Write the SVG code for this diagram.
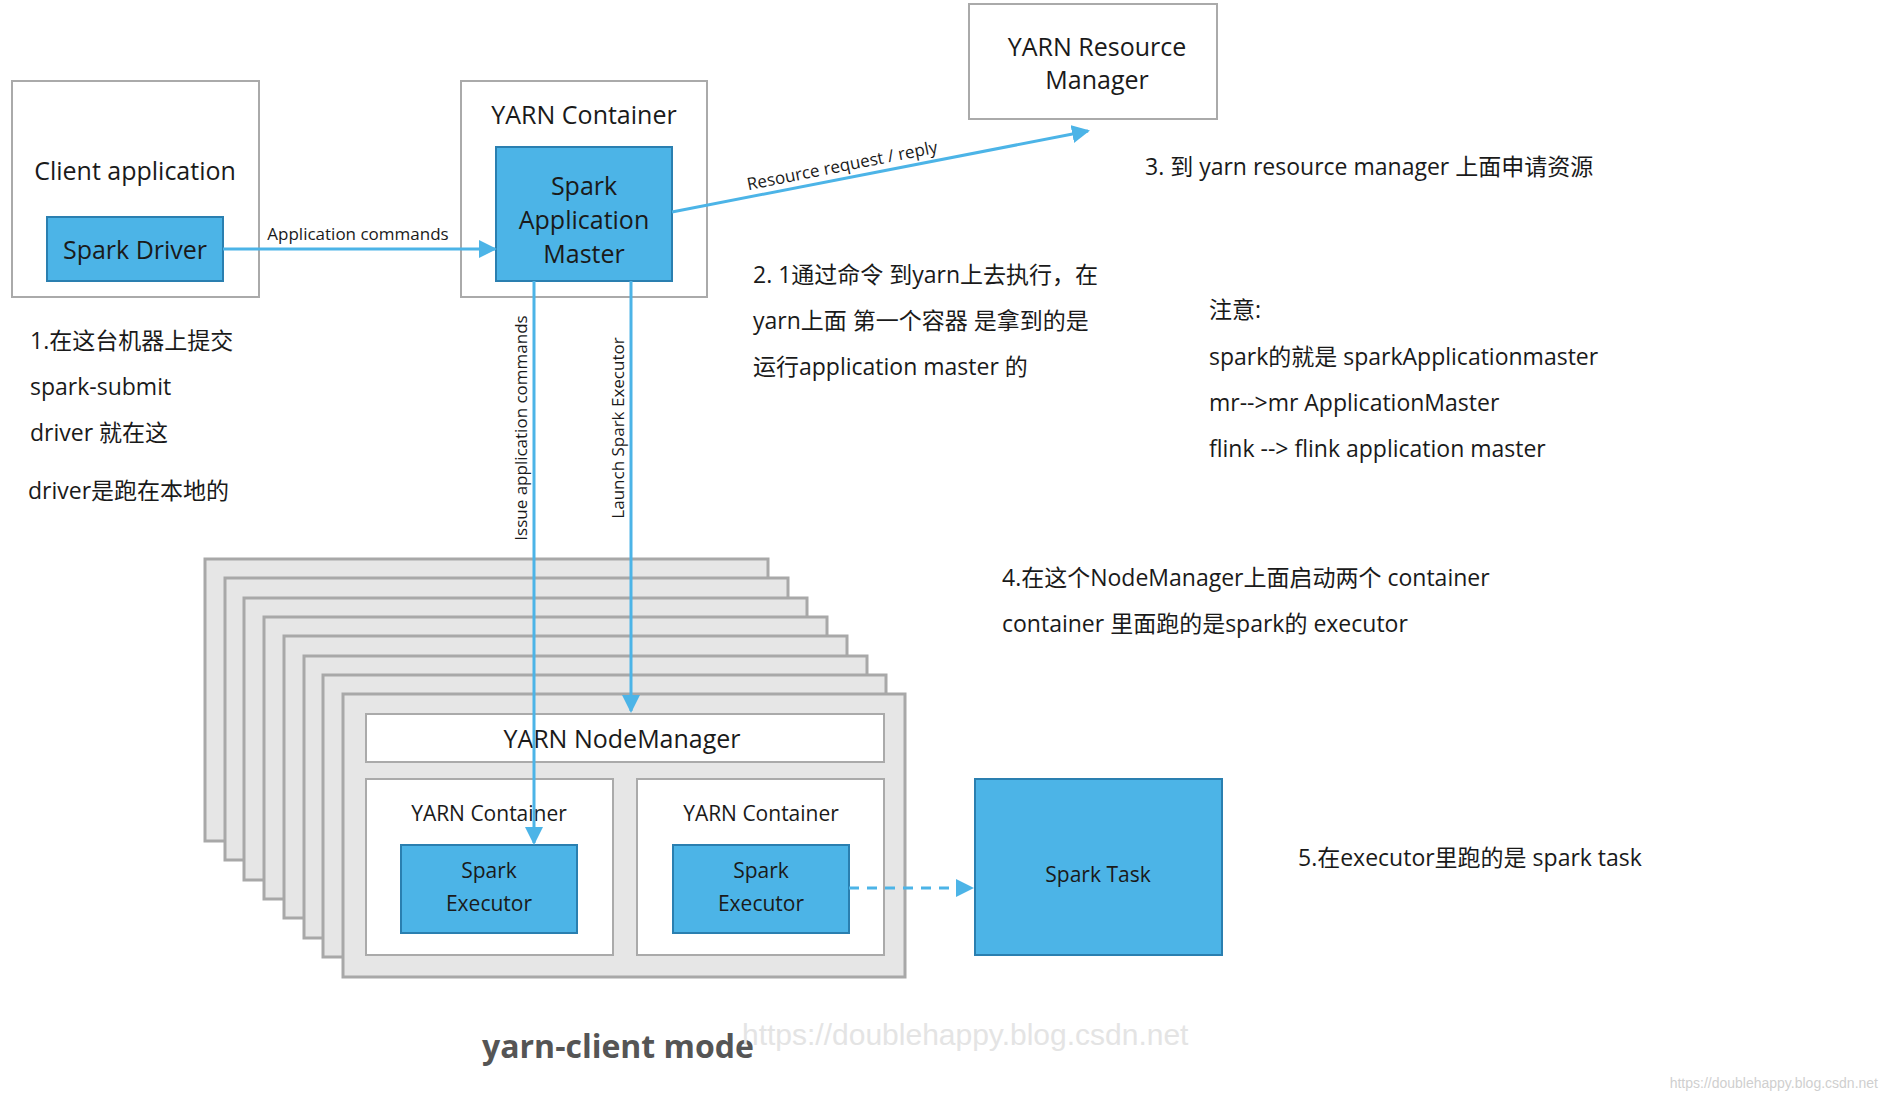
<svg xmlns="http://www.w3.org/2000/svg" width="1882" height="1096" viewBox="0 0 1882 1096">
<style>
text{font-family:"Open Sans","Noto Sans CJK SC",sans-serif;fill:#1a1a1a;dominant-baseline:central}
.box{fill:#fff;stroke:#aaa;stroke-width:2}
.blue{fill:#4cb4e7;stroke:#2a7fb0;stroke-width:2}
.card{fill:#e6e6e6;stroke:#a8a8a8;stroke-width:3}
.n{font-size:25px;text-anchor:middle}
.s{font-size:21px;text-anchor:middle}
.l{font-size:17px;text-anchor:middle}
.a{font-size:23px}
.ln{stroke:#4cb4e7;stroke-width:3;fill:none}
</style>
<defs>
<marker id="arb" markerWidth="18" markerHeight="18" refX="16" refY="9" orient="auto" markerUnits="userSpaceOnUse"><path d="M0,0 L18,9 L0,18 z" fill="#4cb4e7"/></marker></defs>
<rect width="1882" height="1096" fill="#fff"/>
<g id="client"><rect class="box" x="12" y="81" width="247" height="216"/><text class="n" x="135" y="170">Client application</text></g>
<g id="driver"><rect class="blue" x="47" y="217" width="176" height="64"/><text class="n" x="135" y="249">Spark Driver</text></g>
<g id="yarn-container-am"><rect class="box" x="461" y="81" width="246" height="216"/><text class="n" x="584" y="114">YARN Container</text></g>
<g id="am"><rect class="blue" x="496" y="147" width="176" height="134"/><text class="n" x="584" y="185">Spark</text><text class="n" x="584" y="219">Application</text><text class="n" x="584" y="253">Master</text></g>
<g id="rm"><rect class="box" x="969" y="4" width="248" height="115"/><text class="n" x="1097" y="46">YARN Resource</text><text class="n" x="1097" y="79">Manager</text></g>
<g id="stack">
<rect class="card" x="205" y="559" width="563" height="282"/>
<rect class="card" x="225" y="578" width="563" height="282"/>
<rect class="card" x="244" y="598" width="563" height="282"/>
<rect class="card" x="264" y="617" width="563" height="282"/>
<rect class="card" x="284" y="636" width="563" height="282"/>
<rect class="card" x="304" y="656" width="563" height="282"/>
<rect class="card" x="323" y="675" width="563" height="282"/>
<rect class="card" x="343" y="694" width="562" height="283"/>
</g>
<g id="nodemanager"><rect class="box" x="366" y="714" width="518" height="48"/><text class="n" x="622" y="738">YARN NodeManager</text></g>
<g id="container1"><rect class="box" x="366" y="779" width="247" height="176"/><text class="s" x="489" y="813">YARN Container</text></g>
<g id="container2"><rect class="box" x="637" y="779" width="247" height="176"/><text class="s" x="761" y="813">YARN Container</text></g>
<g id="exec1"><rect class="blue" x="401" y="845" width="176" height="88"/><text class="s" x="489" y="870">Spark</text><text class="s" x="489" y="903">Executor</text></g>
<g id="exec2"><rect class="blue" x="673" y="845" width="176" height="88"/><text class="s" x="761" y="870">Spark</text><text class="s" x="761" y="903">Executor</text></g>
<g id="task"><rect class="blue" x="975" y="779" width="247" height="176"/><text class="s" x="1098" y="874">Spark Task</text></g>
<g id="connectors">
<line class="ln" x1="223" y1="249" x2="495" y2="249" marker-end="url(#arb)"/>
<line class="ln" x1="672" y1="212" x2="1088" y2="131" marker-end="url(#arb)"/>
<line class="ln" x1="534" y1="281" x2="534" y2="843" marker-end="url(#arb)"/>
<line class="ln" x1="631" y1="281" x2="631" y2="711" marker-end="url(#arb)"/>
<line class="ln" x1="849" y1="888" x2="972" y2="888" stroke-dasharray="10,8" marker-end="url(#arb)"/>
<text class="l" x="358" y="233">Application commands</text>
<text class="l" transform="translate(842,165) rotate(-11.2)">Resource request / reply</text>
<text class="l" transform="translate(520,428) rotate(-90)">Issue application commands</text>
<text class="l" transform="translate(617,428) rotate(-90)">Launch Spark Executor</text>
</g>
<g id="notes">
<text class="a" x="30" y="340">1.在这台机器上提交</text>
<text class="a" x="30" y="386">spark-submit</text>
<text class="a" x="30" y="432">driver 就在这</text>
<text class="a" x="28" y="490">driver是跑在本地的</text>
<text class="a" x="753" y="274">2. 1通过命令 到yarn上去执行，在</text>
<text class="a" x="753" y="320">yarn上面 第一个容器 是拿到的是</text>
<text class="a" x="753" y="366">运行application master 的</text>
<text class="a" x="1145" y="166">3. 到 yarn resource manager 上面申请资源</text>
<text class="a" x="1209" y="309">注意:</text>
<text class="a" x="1209" y="356">spark的就是 sparkApplicationmaster</text>
<text class="a" x="1209" y="402">mr-->mr ApplicationMaster</text>
<text class="a" x="1209" y="448">flink --> flink application master</text>
<text class="a" x="1002" y="577">4.在这个NodeManager上面启动两个 container</text>
<text class="a" x="1002" y="623">container 里面跑的是spark的 executor</text>
<text class="a" x="1298" y="857">5.在executor里跑的是 spark task</text>
</g>
<text x="618" y="1045" style="font-size:32px;font-weight:bold;fill:#555;text-anchor:middle">yarn-client mode</text>
<text x="742" y="1034" style="font-size:30px;fill:#e4e4e4;font-family:'Liberation Sans',sans-serif">https://doublehappy.blog.csdn.net</text>
<text x="1878" y="1083" style="font-size:14px;fill:#cfcfcf;text-anchor:end;font-family:'Liberation Sans',sans-serif">https://doublehappy.blog.csdn.net</text>
</svg>
